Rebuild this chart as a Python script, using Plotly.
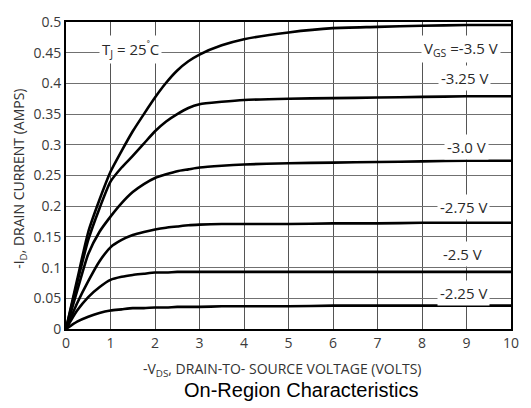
import plotly.graph_objects as go

vds = [0, 0.25, 0.5, 0.75, 1, 1.25, 1.5, 1.75, 2, 2.25, 2.5, 2.75, 3, 3.5, 4, 5, 6, 7, 8, 9, 10]
id_m350 = [0, 0.080, 0.158, 0.210, 0.256, 0.290, 0.322, 0.350, 0.377, 0.401, 0.421, 0.436, 0.447, 0.462, 0.472, 0.483, 0.490, 0.492, 0.494, 0.495, 0.495]
id_m325 = [0, 0.075, 0.145, 0.196, 0.240, 0.263, 0.282, 0.302, 0.322, 0.338, 0.350, 0.360, 0.366, 0.370, 0.373, 0.375, 0.376, 0.377, 0.378, 0.379, 0.379]
id_m300 = [0, 0.062, 0.122, 0.158, 0.183, 0.205, 0.223, 0.236, 0.246, 0.252, 0.257, 0.260, 0.263, 0.266, 0.268, 0.270, 0.271, 0.272, 0.273, 0.274, 0.274]
id_m275 = [0, 0.042, 0.078, 0.110, 0.133, 0.145, 0.153, 0.158, 0.162, 0.165, 0.167, 0.169, 0.170, 0.171, 0.171, 0.171, 0.172, 0.172, 0.173, 0.173, 0.173]
id_m250 = [0, 0.030, 0.052, 0.068, 0.080, 0.085, 0.088, 0.090, 0.092, 0.092, 0.093, 0.093, 0.093, 0.093, 0.093, 0.093, 0.093, 0.093, 0.093, 0.093, 0.093]
id_m225 = [0, 0.012, 0.020, 0.026, 0.030, 0.032, 0.034, 0.034, 0.035, 0.035, 0.036, 0.036, 0.036, 0.037, 0.037, 0.037, 0.038, 0.038, 0.038, 0.038, 0.038]

series = [id_m350, id_m325, id_m300, id_m275, id_m250, id_m225]
labels = ["V<sub>GS</sub> =-3.5 V", "-3.25 V", "-3.0 V", "-2.75 V", "-2.5 V", "-2.25 V"]
label_x = [8.87, 8.96, 9.0, 8.94, 8.9, 8.94]
label_y = [0.456, 0.408, 0.296, 0.198, 0.122, 0.058]

x_ticks = list(range(0, 11))
y_ticks = [0, 0.05, 0.1, 0.15, 0.2, 0.25, 0.3, 0.35, 0.4, 0.45, 0.5]
y_tick_text = ["0", "0.05", "0.1", "0.15", "0.2", "0.25", "0.3", "0.35", "0.4", "0.45", "0.5"]

fig = go.Figure()
for ys in series:
    fig.add_trace(go.Scatter(x=vds, y=ys, mode="lines",
                             line=dict(color="black", width=2.6, shape="spline", smoothing=0.6),
                             showlegend=False, hoverinfo="skip"))

fam = "Open Sans, Lato, sans-serif"
tick_font = dict(family=fam, size=14, color="#3a3a3a")
label_font = dict(family=fam, size=15, color="#2a2a2a")
for lx, ly, lt in zip(label_x, label_y, labels):
    fig.add_annotation(x=lx, y=ly, text=lt, showarrow=False, bgcolor="white",
                       font=label_font, borderpad=2)
fig.add_annotation(x=1.45, y=0.456, text="T<sub>J</sub> = 25<sup>˚</sup>C", showarrow=False,
                   bgcolor="white", font=label_font, borderpad=2)

fig.add_annotation(xref="paper", yref="paper", x=0.487, y=-0.133, yanchor="middle",
                   text="-V<sub>DS</sub>, DRAIN-TO- SOURCE VOLTAGE (VOLTS)", showarrow=False,
                   font=dict(family=fam, size=14, color="#333333"))
fig.add_annotation(xref="paper", yref="paper", x=0.53, y=-0.2, yanchor="middle",
                   text="On-Region Characteristics", showarrow=False,
                   font=dict(family="Liberation Sans, Arial, sans-serif", size=20, color="black"))
fig.add_annotation(xref="paper", yref="paper", x=-0.105, y=0.49, xanchor="center", yanchor="middle",
                   textangle=-90, text="-I<sub>D</sub>, DRAIN CURRENT (AMPS)", showarrow=False,
                   font=dict(family=fam, size=14, color="#333333"))

fig.update_xaxes(range=[0, 10], tickvals=x_ticks, ticks="", showgrid=True,
                 gridcolor="#555555", gridwidth=1.2, zeroline=False,
                 showline=True, linecolor="black", linewidth=2, mirror=True,
                 tickfont=tick_font, fixedrange=True)
fig.update_yaxes(range=[0, 0.5], tickvals=y_ticks, ticktext=y_tick_text, ticks="",
                 showgrid=True, gridcolor="#707070", gridwidth=1.4, zeroline=False,
                 showline=True, linecolor="black", linewidth=2, mirror=True,
                 tickfont=tick_font, fixedrange=True)

fig.update_layout(width=531, height=408, margin=dict(l=66, r=13, t=14, b=79),
                  plot_bgcolor="white", paper_bgcolor="white")
fig.write_html("out.html")
